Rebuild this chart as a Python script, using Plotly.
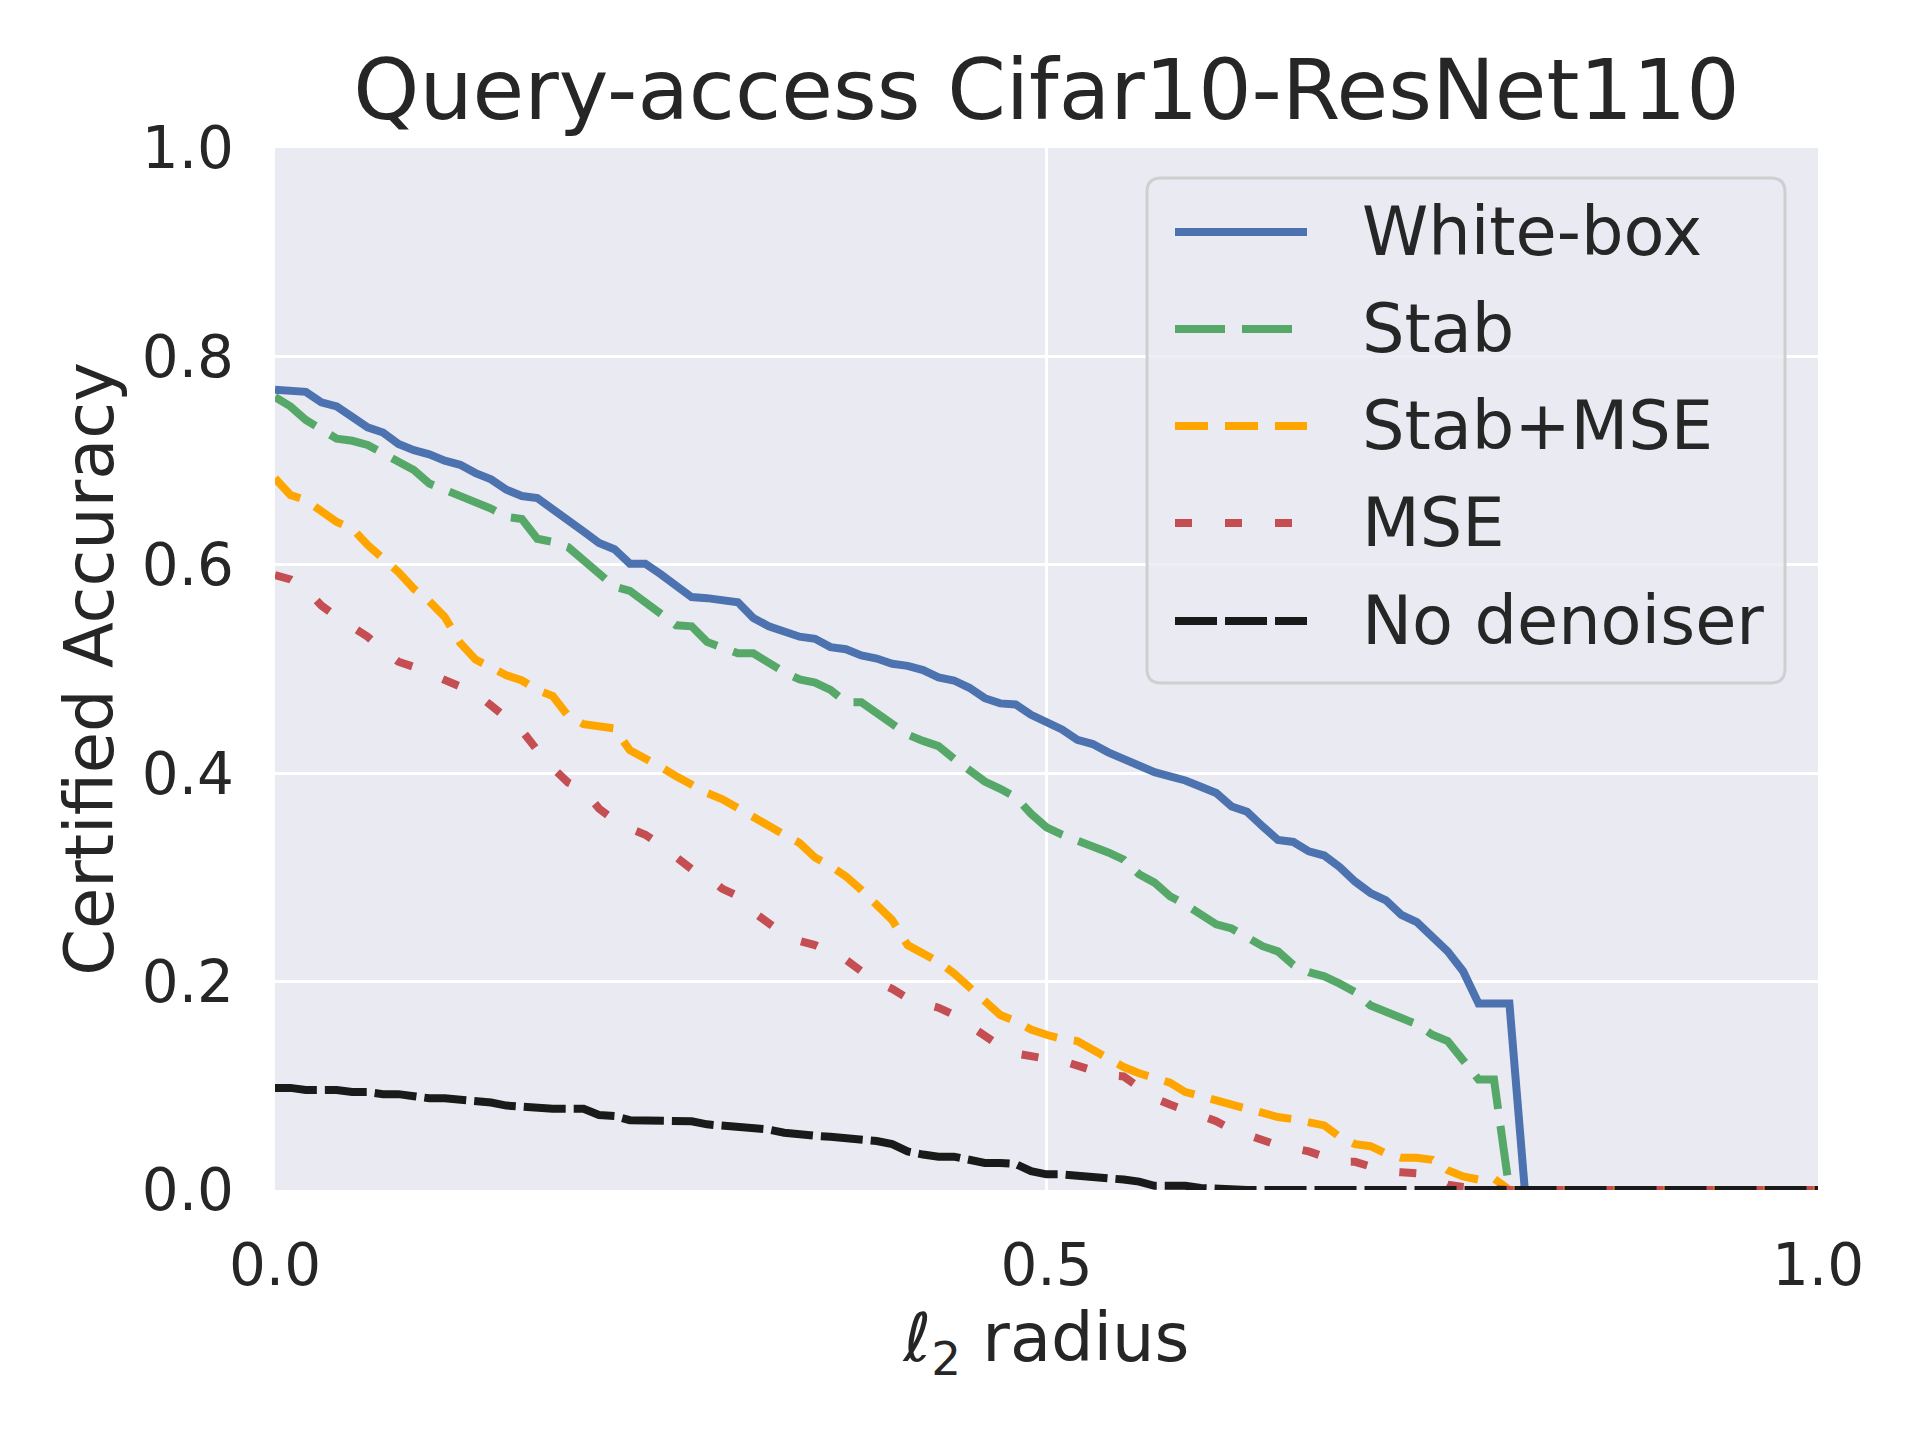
import plotly.graph_objects as go

# ---------------- data ----------------
radius = [round(i * 0.01, 2) for i in range(101)]

white_box = [0.768, 0.767, 0.766, 0.756, 0.752, 0.742, 0.732, 0.727, 0.716, 0.710,
             0.706, 0.700, 0.696, 0.688, 0.682, 0.672, 0.666, 0.664, 0.654, 0.644,
             0.632, 0.621, 0.615, 0.601, 0.601, 0.591, 0.581, 0.569, 0.568, 0.566,
             0.564, 0.549, 0.541, 0.536, 0.531, 0.529, 0.521, 0.519, 0.513, 0.510,
             0.505, 0.503, 0.499, 0.492, 0.489, 0.482, 0.472, 0.467, 0.466, 0.456,
             0.449, 0.442, 0.432, 0.428, 0.420, 0.413, 0.406, 0.401, 0.397, 0.393,
             0.387, 0.381, 0.368, 0.363, 0.349, 0.336, 0.334, 0.325, 0.321, 0.310,
             0.296, 0.285, 0.278, 0.264, 0.257, 0.243, 0.229, 0.210, 0.179, 0.179,
             0.179, 0.0, 0.0, 0.0, 0.0, 0.0, 0.0, 0.0, 0.0, 0.0,
             0.0, 0.0, 0.0, 0.0, 0.0, 0.0, 0.0, 0.0, 0.0, 0.0, 0.0]

stab = [0.761, 0.752, 0.739, 0.729, 0.721, 0.719, 0.715, 0.707, 0.699, 0.691,
        0.678, 0.672, 0.667, 0.660, 0.654, 0.646, 0.644, 0.625, 0.622, 0.617,
        0.605, 0.592, 0.579, 0.575, 0.565, 0.553, 0.542, 0.541, 0.526, 0.521,
        0.515, 0.515, 0.505, 0.497, 0.490, 0.487, 0.480, 0.468, 0.468, 0.457,
        0.448, 0.437, 0.431, 0.426, 0.414, 0.404, 0.392, 0.385, 0.377, 0.361,
        0.348, 0.341, 0.336, 0.330, 0.324, 0.317, 0.303, 0.295, 0.282, 0.274,
        0.264, 0.255, 0.251, 0.243, 0.234, 0.229, 0.216, 0.209, 0.205, 0.198,
        0.190, 0.177, 0.172, 0.165, 0.159, 0.149, 0.143, 0.123, 0.106, 0.106,
        0.0, 0.0, 0.0, 0.0, 0.0, 0.0, 0.0, 0.0, 0.0, 0.0,
        0.0, 0.0, 0.0, 0.0, 0.0, 0.0, 0.0, 0.0, 0.0, 0.0, 0.0]

stab_mse = [0.683, 0.667, 0.662, 0.651, 0.641, 0.635, 0.619, 0.606, 0.593, 0.577,
            0.565, 0.550, 0.525, 0.509, 0.501, 0.494, 0.489, 0.480, 0.474, 0.455,
            0.447, 0.445, 0.443, 0.422, 0.415, 0.406, 0.397, 0.388, 0.381, 0.375,
            0.366, 0.358, 0.350, 0.341, 0.333, 0.319, 0.311, 0.301, 0.288, 0.274,
            0.259, 0.235, 0.227, 0.219, 0.208, 0.194, 0.182, 0.168, 0.162, 0.154,
            0.149, 0.145, 0.143, 0.134, 0.125, 0.118, 0.112, 0.107, 0.103, 0.094,
            0.090, 0.086, 0.083, 0.078, 0.075, 0.070, 0.068, 0.065, 0.062, 0.051,
            0.044, 0.042, 0.035, 0.031, 0.031, 0.029, 0.019, 0.013, 0.010, 0.011,
            0.0, 0.0, 0.0, 0.0, 0.0, 0.0, 0.0, 0.0, 0.0, 0.0,
            0.0, 0.0, 0.0, 0.0, 0.0, 0.0, 0.0, 0.0, 0.0, 0.0, 0.0]

mse = [0.590, 0.586, 0.577, 0.561, 0.550, 0.541, 0.531, 0.518, 0.507, 0.502,
       0.496, 0.490, 0.485, 0.477, 0.465, 0.453, 0.441, 0.422, 0.405, 0.391,
       0.384, 0.366, 0.355, 0.347, 0.341, 0.331, 0.320, 0.308, 0.301, 0.289,
       0.282, 0.267, 0.256, 0.245, 0.239, 0.235, 0.228, 0.221, 0.210, 0.200,
       0.193, 0.184, 0.179, 0.175, 0.168, 0.158, 0.149, 0.138, 0.131, 0.128,
       0.126, 0.124, 0.119, 0.115, 0.110, 0.109, 0.098, 0.088, 0.082, 0.077,
       0.071, 0.066, 0.058, 0.052, 0.048, 0.043, 0.040, 0.037, 0.032, 0.027,
       0.027, 0.022, 0.018, 0.017, 0.016, 0.013, 0.005, 0.003, 0.002, 0.0,
       0.0, 0.0, 0.0, 0.0, 0.0, 0.0, 0.0, 0.0, 0.0, 0.0,
       0.0, 0.0, 0.0, 0.0, 0.0, 0.0, 0.0, 0.0, 0.0, 0.0, 0.0]

no_denoiser = [0.098, 0.098, 0.096, 0.096, 0.096, 0.094, 0.094, 0.092, 0.092, 0.090,
               0.088, 0.088, 0.087, 0.085, 0.084, 0.081, 0.080, 0.078, 0.078, 0.078,
               0.078, 0.072, 0.071, 0.067, 0.067, 0.067, 0.066, 0.066, 0.063, 0.062,
               0.061, 0.060, 0.058, 0.055, 0.053, 0.052, 0.051, 0.050, 0.048, 0.047,
               0.044, 0.037, 0.034, 0.032, 0.032, 0.028, 0.026, 0.026, 0.025, 0.018,
               0.015, 0.015, 0.014, 0.013, 0.012, 0.010, 0.008, 0.004, 0.004, 0.004,
               0.002, 0.001, 0.0, 0.0, 0.0, 0.0, 0.0, 0.0, 0.0, 0.0,
               0.0, 0.0, 0.0, 0.0, 0.0, 0.0, 0.0, 0.0, 0.0, 0.0,
               0.0, 0.0, 0.0, 0.0, 0.0, 0.0, 0.0, 0.0, 0.0, 0.0,
               0.0, 0.0, 0.0, 0.0, 0.0, 0.0, 0.0, 0.0, 0.0, 0.0, 0.0]

series_names = ["White-box", "Stab", "Stab+MSE", "MSE", "No denoiser"]
x_ticks = [0.0, 0.5, 1.0]
y_ticks = [0.0, 0.2, 0.4, 0.6, 0.8, 1.0]

# ---------------- styles ----------------
series_values = [white_box, stab, stab_mse, mse, no_denoiser]
colors = ["#4C72B0", "#55A868", "#FFA500", "#C44E52", "#1a1a1a"]
dashes = ["solid", "50px,17px", "33px,17px", "17px,33px", "42px,8px"]
LW = 8
TXT = "#262626"
FONT = "DejaVu Sans"

W_FIG, H_FIG = 1920, 1440
L, R, T, B = 275, 1818, 148, 1190
PW, PH = R - L, B - T


def px(X):
    return (X - L) / PW


def py(Y):
    return (B - Y) / PH


fig = go.Figure()
for name, vals, c, d in zip(series_names, series_values, colors, dashes):
    fig.add_trace(go.Scatter(x=radius, y=vals, mode="lines", name=name,
                             line=dict(color=c, width=LW, dash=d),
                             showlegend=False))

# ---------------- manual legend (matplotlib-like) ----------------
lx0, lx1, ly0, ly1, rad = 1147, 1785, 178, 683, 14
rx, ry = rad / PW, rad / PH
X0, X1, Y0, Y1 = px(lx0), px(lx1), py(ly1), py(ly0)
path = (f"M{X0 + rx},{Y0} L{X1 - rx},{Y0} Q{X1},{Y0} {X1},{Y0 + ry} "
        f"L{X1},{Y1 - ry} Q{X1},{Y1} {X1 - rx},{Y1} L{X0 + rx},{Y1} "
        f"Q{X0},{Y1} {X0},{Y1 - ry} L{X0},{Y0 + ry} Q{X0},{Y0} {X0 + rx},{Y0} Z")
shapes = [dict(type="path", xref="paper", yref="paper", path=path,
               fillcolor="rgba(234,234,242,0.8)",
               line=dict(color="rgba(204,204,204,0.9)", width=3), layer="above")]
annotations = []
row_y = [232, 329, 426, 523, 621]
for name, c, d, ry_ in zip(series_names, colors, dashes, row_y):
    shapes.append(dict(type="line", xref="paper", yref="paper",
                       x0=px(1175), x1=px(1307), y0=py(ry_), y1=py(ry_),
                       line=dict(color=c, width=LW, dash=d), layer="above"))
    annotations.append(dict(xref="paper", yref="paper", x=px(1360), y=py(ry_),
                            text=name, showarrow=False, xanchor="left",
                            yanchor="middle",
                            font=dict(family=FONT, size=67, color=TXT)))

fig.update_layout(
    width=W_FIG, height=H_FIG,
    margin=dict(l=L, r=W_FIG - R, t=T, b=H_FIG - B, autoexpand=False),
    paper_bgcolor="white", plot_bgcolor="#EAEAF2",
    font=dict(family=FONT, color=TXT),
    title=dict(text="Query-access Cifar10-ResNet110", x=(L + R) / 2 / W_FIG,
               xanchor="center", y=1 - 90 / H_FIG, yanchor="middle",
               yref="container", xref="container",
               font=dict(family=FONT, size=84, color=TXT)),
    shapes=shapes, annotations=annotations,
    showlegend=False,
)
fig.update_xaxes(range=[0, 1], tickvals=x_ticks, ticktext=[f"{v:.1f}" for v in x_ticks],
                 showgrid=True, gridcolor="white", gridwidth=3, zeroline=False,
                 showline=False, ticks="", ticklabelstandoff=36,
                 tickfont=dict(family=FONT, size=58, color=TXT),
                 title=dict(text="<i>ℓ</i><sub>2</sub> radius", standoff=16,
                            font=dict(family=FONT, size=67, color=TXT)))
fig.update_yaxes(range=[0, 1], tickvals=y_ticks, ticktext=[f"{v:.1f}" for v in y_ticks],
                 showgrid=True, gridcolor="white", gridwidth=3, zeroline=False,
                 showline=False, ticks="", ticklabelstandoff=40,
                 tickfont=dict(family=FONT, size=58, color=TXT),
                 title=dict(text="Certified Accuracy", standoff=6,
                            font=dict(family=FONT, size=67, color=TXT)))

fig.write_html("out.html")
